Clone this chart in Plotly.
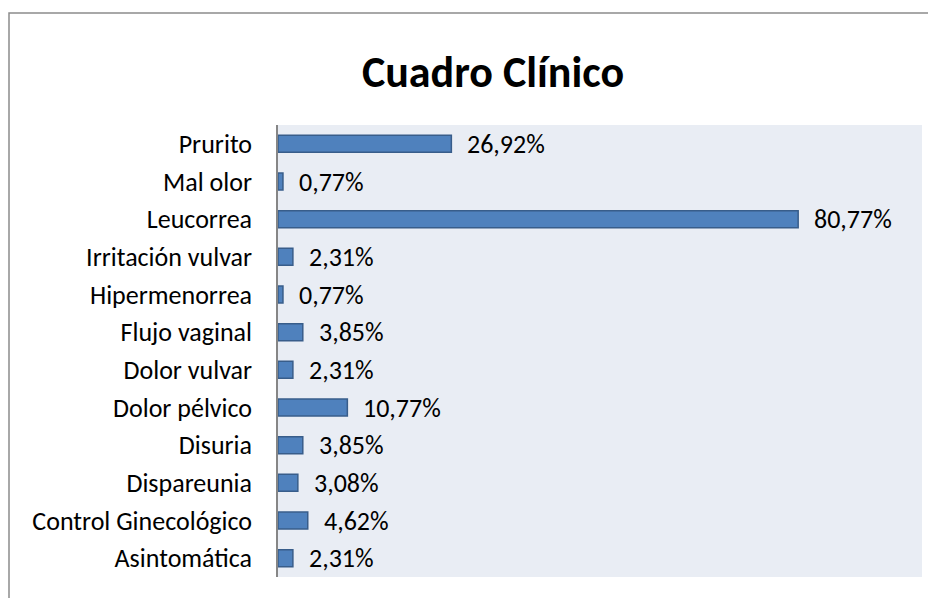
import plotly.graph_objects as go

categories = ["Prurito", "Mal olor", "Leucorrea", "Irritación vulvar", "Hipermenorrea",
              "Flujo vaginal", "Dolor vulvar", "Dolor pélvico", "Disuria", "Dispareunia",
              "Control Ginecológico", "Asintomática"]
values = [26.92, 0.77, 80.77, 2.31, 0.77, 3.85, 2.31, 10.77, 3.85, 3.08, 4.62, 2.31]

FONT = "Carlito, Lato, 'Open Sans', sans-serif"

# page has an 8px body margin; figure coordinates are page coordinates minus 8
W, H = 928, 590
L, R, T, B = 270, 14, 117, 21
pw, ph = W - L - R, H - T - B

def px2x(px):
    return (px - L) / pw

def py2y(py):
    return (H - B - py) / ph

fig = go.Figure(go.Bar(
    x=values, y=categories, orientation="h",
    marker=dict(color="#4F81BD", line=dict(color="#385D8A", width=1.5)),
    width=0.45,
    hoverinfo="x+y",
))

for c, v in zip(categories, values):
    fig.add_annotation(x=v, y=c, xref="x", yref="y", text=f"{v:.2f}%".replace(".", ","),
                       showarrow=False, xanchor="left", xshift=14,
                       font=dict(family=FONT, size=26, color="#000000"))

fig.add_shape(type="rect", xref="paper", yref="paper",
              x0=px2x(1), x1=px2x(945), y0=py2y(5), y1=py2y(610),
              line=dict(color="#8C8C8C", width=1.5), fillcolor="rgba(0,0,0,0)", layer="below")

fig.update_layout(
    width=W, height=H,
    margin=dict(l=L, r=R, t=T, b=B, pad=0),
    paper_bgcolor="white",
    plot_bgcolor="#E9EDF4",
    title=dict(text="<b>Cuadro Clínico</b>", x=485 / W, xanchor="center", y=1 - 64 / H, yanchor="middle",
               font=dict(family=FONT, size=44, color="#000000")),
    xaxis=dict(range=[0, 100], showgrid=False, showticklabels=False, zeroline=False,
               showline=False, ticks="", fixedrange=True),
    yaxis=dict(autorange="reversed", showgrid=False, showline=True, linecolor="#868686",
               linewidth=1.5, ticks="", ticklabelstandoff=19,
               tickfont=dict(family=FONT, size=26, color="#000000")),
    showlegend=False,
    font=dict(family=FONT),
)

fig.write_html("out.html")
